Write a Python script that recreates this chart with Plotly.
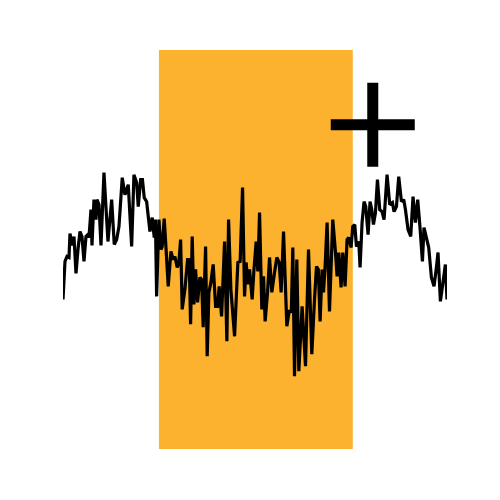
import plotly.graph_objects as go

# Signal values
x_vals = [0, 2, 4, 6, 7, 9, 11, 13, 15, 17, 19, 21, 23, 25, 26, 28, 29, 31, 33, 34, 36, 38, 41, 45,
          48.7, 51.3, 53.7, 56, 59.3, 62, 65.3, 68.7, 71, 73.7, 75.3, 77.7, 79.5, 81.3, 83.7, 85.3,
          87, 89.3, 91.3, 92.5, 93.7, 96, 98, 99.3, 101.3, 103, 105.3, 108, 110.3, 112, 114.3, 116,
          117.7, 119.3, 122, 124.7, 126.3, 127.7, 129.3, 131, 132.7, 134.7, 137, 138.7, 140.3, 142.7,
          144.3, 146, 148, 150.3, 152.7, 154.7, 156.3, 158.7, 161.7, 164, 165.7, 168, 171.7, 175,
          177.3, 179.7, 181.7, 183.3, 185, 186.7, 189.3, 191, 193.3, 195, 196.7, 199, 200.7, 202.3,
          204.7, 206.7, 209, 211.7, 214, 216.3, 218.3, 220.7, 224, 226.5, 228.5, 230, 231.7, 234,
          236, 239.3, 242.7, 245.7, 249, 251.7, 253.7, 255.5, 257.3, 259.3, 260.7, 262.3, 264.3,
          266.7, 270, 272.7, 274.3, 276, 278.3, 280, 282.3, 284.3, 286, 288.3, 290, 292, 293.7, 296,
          297.3, 299.3, 301.3, 303, 305.3, 307.3, 309, 310.7, 312.7, 314.7, 317, 319.3, 321.3, 324.3,
          327, 329.7, 331.3, 333.7, 336, 338.7, 341, 342.7, 345.3, 348, 350.3, 352.7, 355, 357.3,
          359.7, 361.3, 363.7, 366, 368.7, 371.3, 373.7, 375.3, 377.7, 380.3, 382.7, 384.3]
y_vals = [150, 188, 193, 192, 216, 204, 213, 176, 200, 218, 213, 188, 213, 215, 212, 240, 204, 250,
          230, 250, 245, 204, 277, 208, 250, 205, 210, 223, 272, 255, 265, 203, 275, 267, 243, 270,
          270, 252, 248, 235, 218, 232, 212, 230, 153, 230, 200, 203, 231, 203, 163, 198, 190, 193,
          182, 187, 210, 140, 160, 190, 190, 125, 213, 145, 180, 147, 172, 170, 122, 203, 93, 157,
          167, 185, 143, 143, 163, 133, 208, 108, 230, 160, 113, 187, 188, 262, 153, 187, 165, 180,
          150, 178, 208, 178, 237, 140, 173, 128, 157, 192, 157, 177, 192, 187, 157, 218, 123, 139,
          137, 202, 73, 190, 78, 143, 83, 200, 95, 150, 183, 180, 128, 180, 157, 183, 227, 138, 230,
          197, 173, 197, 162, 197, 163, 210, 212, 202, 223, 225, 203, 208, 182, 227, 248, 243, 215,
          248, 240, 225, 237, 270, 240, 238, 230, 275, 245, 247, 238, 243, 273, 248, 250, 240, 220,
          213, 253, 227, 250, 222, 188, 222, 213, 202, 172, 163, 182, 197, 148, 170, 185, 150]

# Highlighted span and marker position
span_start = 96
span_end = 290
plus_x = [310]
plus_y = [325]

fig = go.Figure()

fig.add_shape(type="rect", xref="x", yref="paper", x0=span_start, x1=span_end, y0=0, y1=1,
              fillcolor="rgb(252,178,46)", line=dict(width=0), layer="below")

fig.add_trace(go.Scatter(x=x_vals, y=y_vals, mode="lines",
                         line=dict(color="black", width=3.2), showlegend=False, hoverinfo="skip"))

fig.add_trace(go.Scatter(x=plus_x, y=plus_y, mode="markers",
                         marker=dict(symbol="cross-thin", size=60, color="black",
                                     line=dict(color="black", width=11)),
                         showlegend=False, hoverinfo="skip", cliponaxis=False))

fig.update_layout(
    width=500, height=500,
    margin=dict(l=55, r=61, t=42, b=59),
    paper_bgcolor="white", plot_bgcolor="white",
    xaxis=dict(range=[0, 384.3], visible=False),
    yaxis=dict(range=[0, 400], visible=False),
)

fig.write_html("out.html")
